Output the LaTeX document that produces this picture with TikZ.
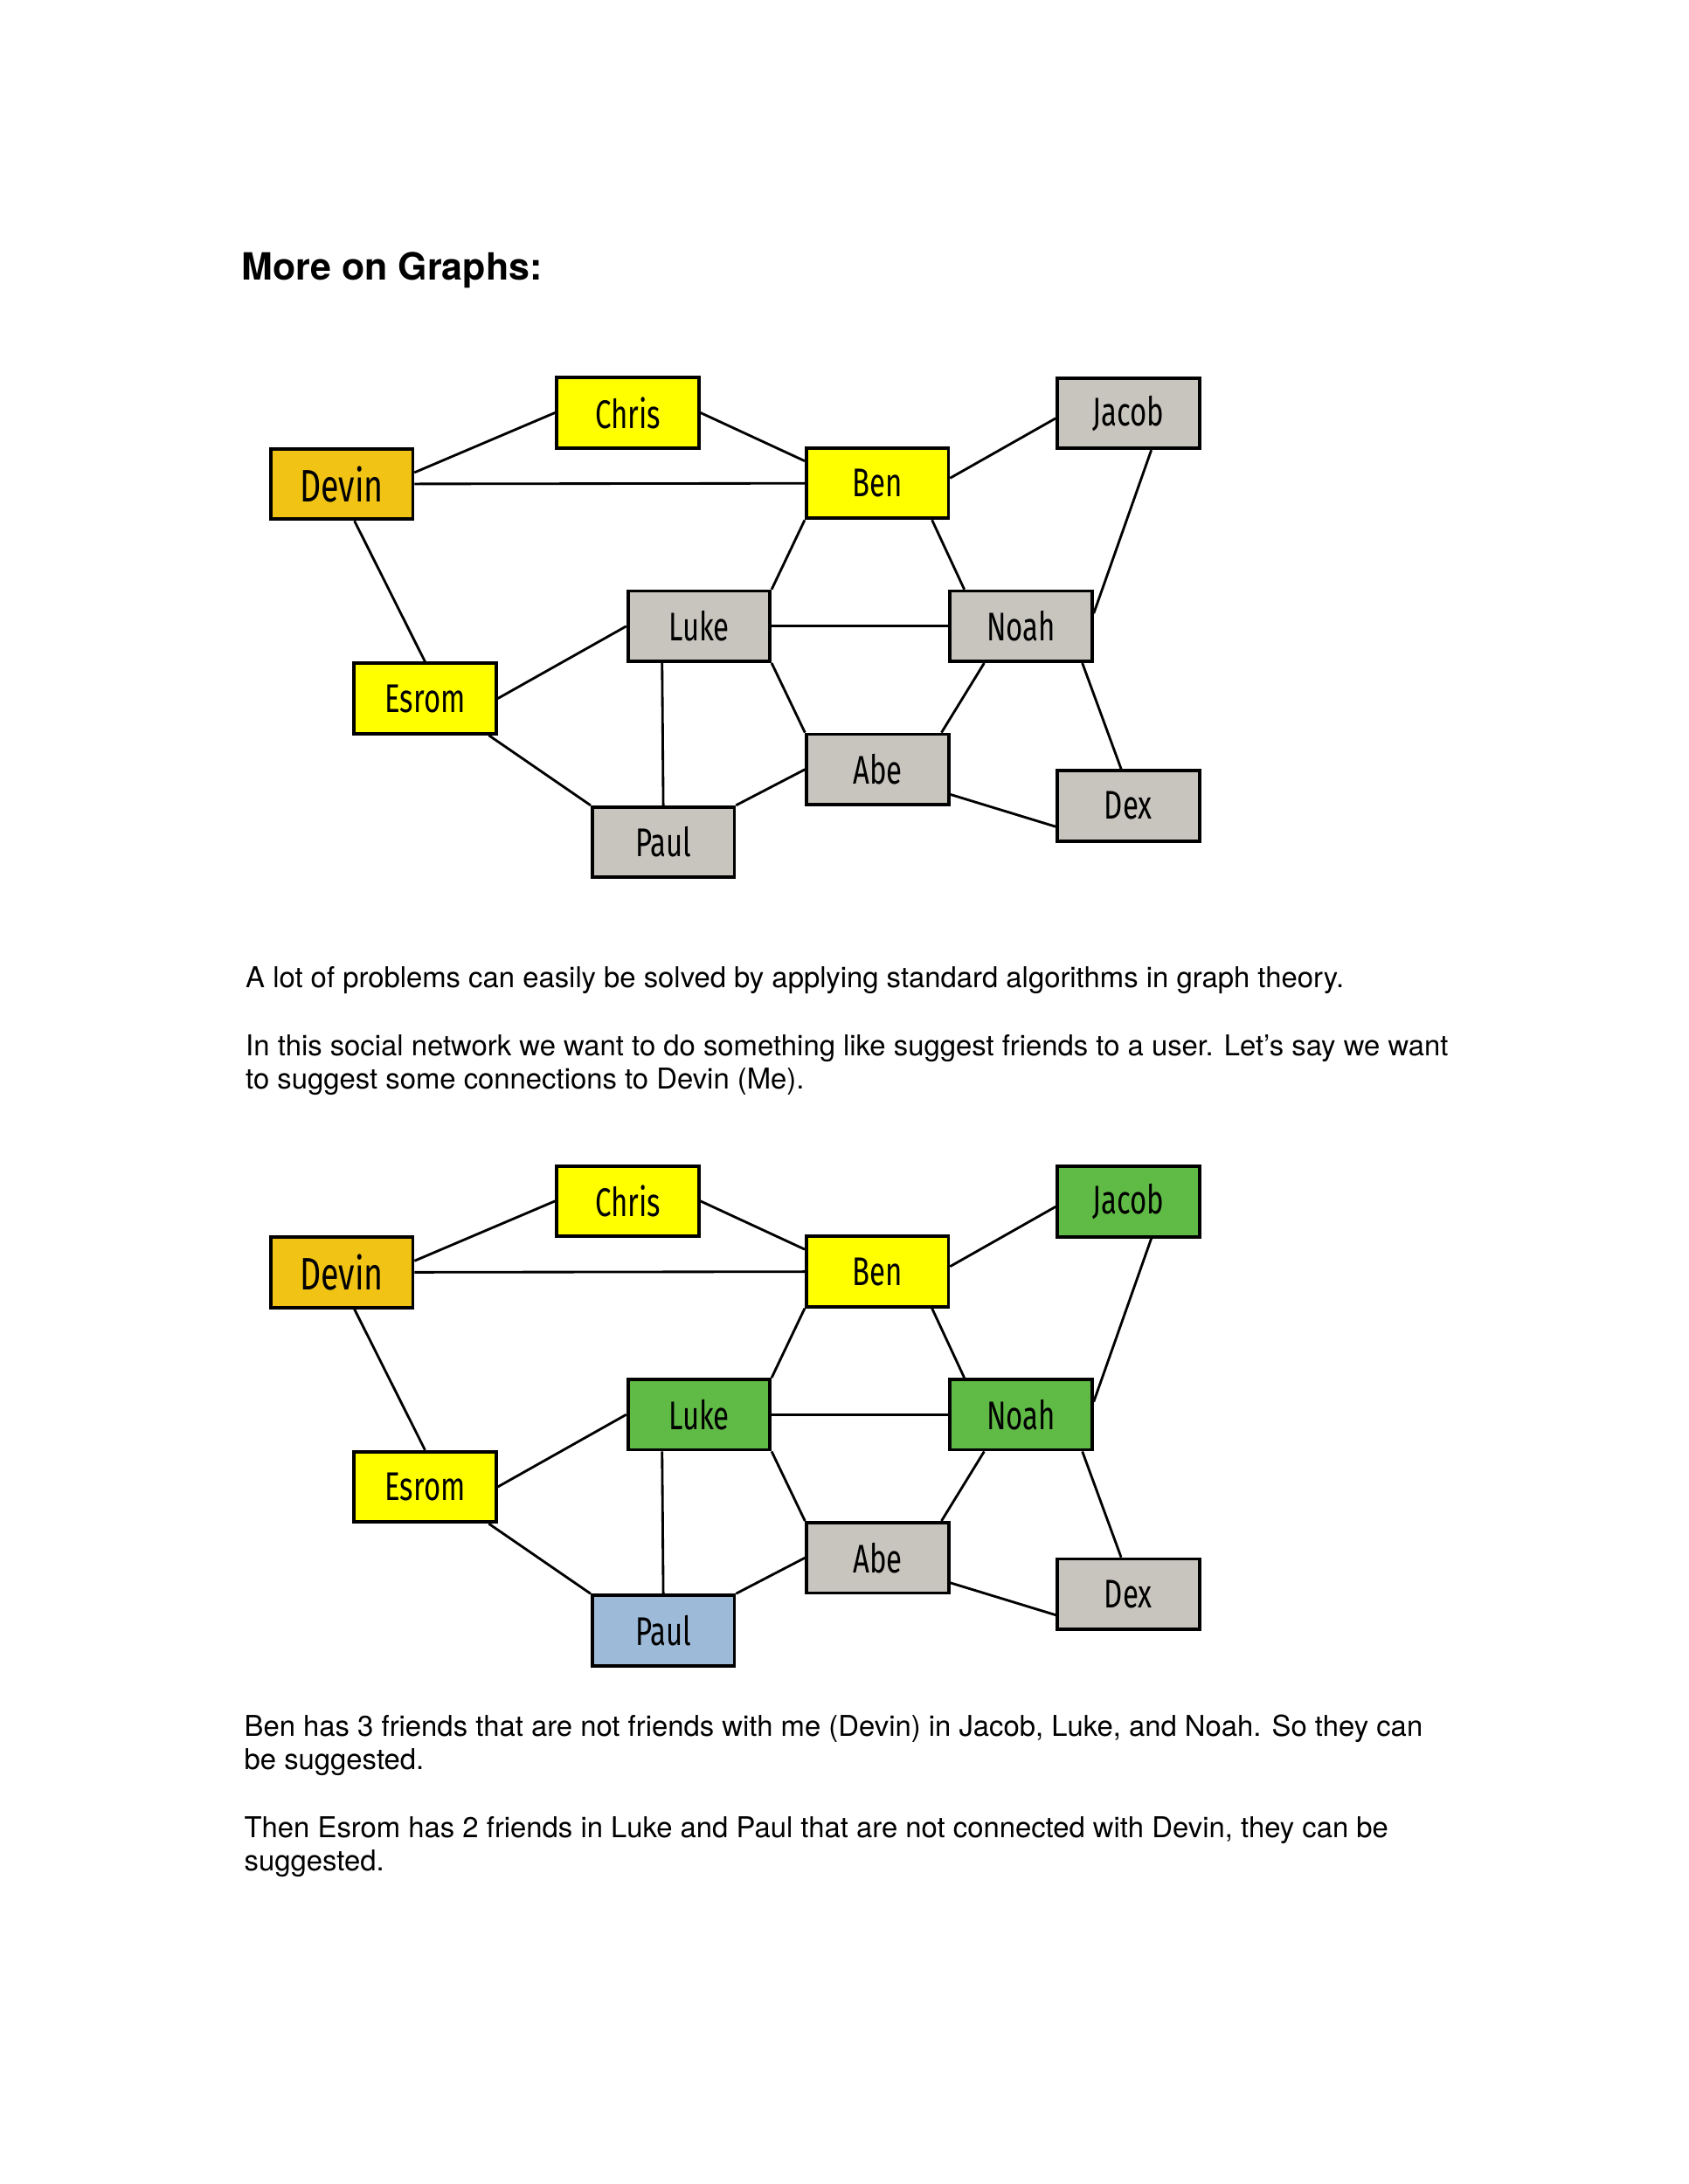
\documentclass[tikz,border=0pt]{standalone}
\usepackage{fontspec}
\setmainfont{TeX Gyre Heros}
\newfontfamily\handfont{Fira Sans}
\usepackage{graphicx}

\definecolor{devinorange}{RGB}{241,195,20}
\definecolor{friendyellow}{RGB}{255,255,0}
\definecolor{othergrey}{RGB}{200,197,190}
\definecolor{suggestgreen}{RGB}{96,187,70}
\definecolor{paulblue}{RGB}{157,186,216}

\newcommand{\hand}[1]{\handfont\scalebox{0.72}[1]{#1}}

\tikzset{
  person/.style={draw, line width=1.2pt, minimum width=51.5pt, minimum height=25.5pt,
    inner sep=0pt, font=\fontsize{14.5}{14.5}\selectfont},
  link/.style={line width=0.9pt},
  prose/.style={anchor=base west, inner sep=0pt, font=\fontsize{10.4}{12.1}\selectfont},
}

\begin{document}
\begin{tikzpicture}[x=0.505pt, y=-0.505pt]
  \useasboundingbox (0,0) rectangle (1212,1568);
  \node[prose, font=\fontsize{13.6}{16}\selectfont\bfseries] (title) at (173,201) {More on Graphs:};

  % same network twice, second one with the suggestions coloured
  \foreach \g/\dy/\cj/\cl/\cn/\cp in {a/0/othergrey/othergrey/othergrey/othergrey,
                                      b/566/suggestgreen/suggestgreen/suggestgreen/paulblue}{
    \begin{scope}[shift={(0,\dy)}]
      \node[person, fill=friendyellow] (chris\g) at (450.6,296.3) {\hand{Chris}};
      \node[person, fill=devinorange, font=\fontsize{16.5}{16.5}\selectfont] (devin\g) at (245.3,347.5) {\hand{Devin}};
      \node[person, fill=friendyellow] (ben\g) at (629.8,346.9) {\hand{Ben}};
      \node[person, fill=\cj] (jacob\g) at (809.9,296.7) {\hand{Jacob}};
      \node[person, fill=\cl] (luke\g) at (501.7,449.6) {\hand{Luke}};
      \node[person, fill=\cn] (noah\g) at (732.9,449.6) {\hand{Noah}};
      \node[person, fill=friendyellow] (esrom\g) at (305.1,501.5) {\hand{Esrom}};
      \node[person, fill=othergrey] (abe\g) at (630.0,552.4) {\hand{Abe}};
      \node[person, fill=\cp] (paul\g) at (476.1,604.6) {\hand{Paul}};
      \node[person, fill=othergrey] (dex\g) at (809.9,578.5) {\hand{Dex}};
      \path[link]
      (devin\g.9) edge (chris\g.west)
      (chris\g.east) edge (ben\g.163)
      (devin\g) edge (ben\g)
      (ben\g.4) edge (jacob\g.184)
      (jacob\g.-58) edge (noah\g.10)
      (ben\g.south west) edge (luke\g.north east)
      (ben\g.-34) edge (noah\g.147)
      (luke\g) edge (noah\g)
      (devin\g.-71) edge (esrom\g.north)
      (esrom\g.east) edge (luke\g.west)
      (esrom\g.-30) edge (paul\g.north west)
      (luke\g.-135) edge (paul\g.north)
      (luke\g.south east) edge (abe\g.north west)
      (noah\g.-135) edge (abe\g.30)
      (paul\g.north east) edge (abe\g.west)
      (abe\g.-19) edge (dex\g.196)
      (noah\g.-31) edge (dex\g.101)
      ; %end path
    \end{scope}
  }

  \node[prose] (intro) at (176,709) {A lot of problems can easily be solved by applying standard algorithms in graph theory.};
  \node[prose] (idea1) at (176,758) {In this social network we want to do something like suggest friends to a user. Let’s say we want};
  \node[prose] (idea2) at (176,782) {to suggest some connections to Devin (Me).};
  \node[prose] (ben1) at (175,1246.5) {Ben has 3 friends that are not friends with me (Devin) in Jacob, Luke, and Noah. So they can};
  \node[prose] (ben2) at (175,1270.5) {be suggested.};
  \node[prose] (esrom1) at (175,1319.5) {Then Esrom has 2 friends in Luke and Paul that are not connected with Devin, they can be};
  \node[prose] (esrom2) at (175,1343) {suggested.};
\end{tikzpicture}
\end{document}
